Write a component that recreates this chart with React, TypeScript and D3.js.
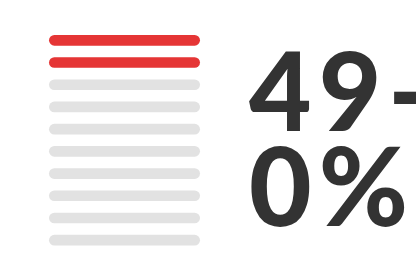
import { useEffect, useRef } from 'react';
import * as d3 from "d3";

// pictogram rows: 10 bars, first ones highlighted
const rows = ["1", "2", "3", "4", "5", "6", "7", "8", "9", "10"];
const highlighted = 2;
const labelLines = ["49-", "0%"];

export default function App() {
  const chartRef = useRef<SVGSVGElement>(null);

  useEffect(() => {
    if (!chartRef.current) return;
    d3.select(chartRef.current).selectAll("*").remove();

    const width = 416;
    const height = 266;

    const y = d3.scaleBand()
      .domain(rows)
      .range([35, 245.5])
      .paddingInner(0.52)
      .paddingOuter(0);

    const x = d3.scaleLinear()
      .domain([0, 1])
      .range([49, 200]);

    const svg = d3.select(chartRef.current)
      .attr("viewBox", [0, 0, width, height])
      .attr("width", width)
      .attr("height", height)
      .style("display", "block");

    svg.append("g")
      .selectAll("rect")
      .data(rows)
      .join("rect")
      .attr("x", x(0))
      .attr("y", d => y(d) || 0)
      .attr("width", x(1) - x(0))
      .attr("height", y.bandwidth())
      .attr("rx", y.bandwidth() / 2)
      .attr("fill", (d, i) => i < highlighted ? "#e53535" : "#e2e2e2");

    // big label, wrapped over two lines
    svg.append("text")
      .attr("font-family", "Lato, 'Open Sans', sans-serif")
      .attr("font-weight", 900)
      .attr("font-size", 108)
      .attr("letter-spacing", 7)
      .attr("fill", "#333333")
      .selectAll("tspan")
      .data(labelLines)
      .join("tspan")
      .attr("x", 249)
      .attr("y", (d, i) => 131 + i * 95)
      .text(d => d);
  }, []);

  return (
    <div style={{ position: "fixed", left: 0, top: 0, width: 416, height: 266, overflow: "hidden", background: "#fff" }}>
      <svg ref={chartRef}></svg>
    </div>
  );
}
